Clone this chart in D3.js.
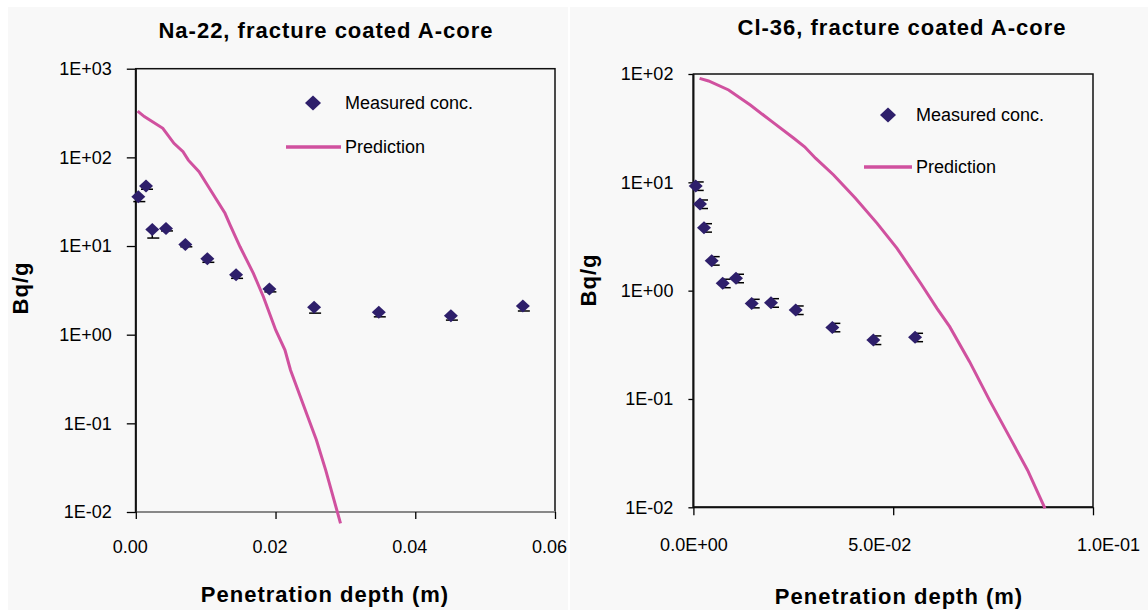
<!DOCTYPE html>
<html lang="en">
<head>
<meta charset="UTF-8">
<title>Na-22 and Cl-36 penetration profiles</title>
<style>
    body { margin: 0; background: #fff; }
    svg { display: block; font-family: "Liberation Sans", Arial, sans-serif; }
    .tick text { font-size: 18px; fill: #000; }
    .tick line { stroke: #000; stroke-width: 1.3px; }
    .title, .axis-title { font-weight: bold; font-size: 22px; letter-spacing: 1px; }
    .legend text { font-size: 18px; }
</style>
</head>
<body>
<svg width="1148" height="610"></svg>
<script src="https://d3js.org/d3.v7.min.js"></script>
<script>
    // Na-22 measured concentration (Bq/g) vs penetration depth (m)
    const naDepth = [0.00036, 0.00146, 0.00236, 0.00432, 0.00709, 0.01024, 0.01435, 0.01912, 0.02552, 0.03478, 0.0451, 0.0554];
    const naConc  = [36.0, 47.5, 15.4, 15.8, 10.4, 7.2, 4.75, 3.27, 2.04, 1.79, 1.64, 2.10];
    const naErr   = [4.3, 3.8, 3.1, 1.0, 0.6, 0.65, 0.43, 0.23, 0.29, 0.2, 0.18, 0.25];
    // Na-22 prediction
    const naPredDepth = [0.00026, 0.00122, 0.00387, 0.00546, 0.00676, 0.00752, 0.00905, 0.01024, 0.01277, 0.01349, 0.01492, 0.01683, 0.01826, 0.02002, 0.02135, 0.02214, 0.02452, 0.02585, 0.02718, 0.0293];
    const naPred      = [333, 288, 213, 144, 116, 93, 69, 48.8, 23.4, 17.3, 9.8, 4.92, 2.68, 1.13, 0.671, 0.40, 0.124, 0.0649, 0.0297, 0.00745];

    // Cl-36 measured concentration
    const clDepth = [0.00058, 0.00165, 0.00265, 0.00458, 0.00733, 0.01066, 0.01459, 0.01942, 0.0256, 0.03477, 0.04503, 0.05547];
    const clConc  = [9.25, 6.3, 3.81, 1.89, 1.17, 1.30, 0.763, 0.773, 0.662, 0.458, 0.350, 0.371];
    const clErr   = [0.83, 0.57, 0.34, 0.17, 0.105, 0.117, 0.069, 0.07, 0.06, 0.041, 0.032, 0.033];
    // Cl-36 prediction
    const clPredDepth = [0.00155, 0.0038, 0.00881, 0.01424, 0.01967, 0.02513, 0.02783, 0.03056, 0.03509, 0.04055, 0.04598, 0.05096, 0.05687, 0.06095, 0.06413, 0.06911, 0.07409, 0.07955, 0.08363, 0.08798];
    const clPred      = [91.2, 86.2, 71.2, 51.7, 36.3, 25.5, 21.3, 16.7, 11.7, 7.12, 4.18, 2.46, 1.17, 0.687, 0.465, 0.221, 0.0977, 0.0417, 0.0220, 0.00977];

    // ticks
    const naXTicks = [0, 0.02, 0.04, 0.06];
    const naXLabels = ["0.00", "0.02", "0.04", "0.06"];
    const naYTicks = [1000, 100, 10, 1, 0.1, 0.01];
    const naYLabels = ["1E+03", "1E+02", "1E+01", "1E+00", "1E-01", "1E-02"];
    const clXTicks = [0, 0.05, 0.1];
    const clXLabels = ["0.0E+00", "5.0E-02", "1.0E-01"];
    const clYTicks = [100, 10, 1, 0.1, 0.01];
    const clYLabels = ["1E+02", "1E+01", "1E+00", "1E-01", "1E-02"];

    const markerColor = "#2e1f6b";
    const lineColor = "#d0519f";

    const svg = d3.select("svg");

    // panel backgrounds
    svg.append("rect").attr("x", 8).attr("y", 7).attr("width", 560).attr("height", 603).attr("fill", "#f8f8f8");
    svg.append("rect").attr("x", 570).attr("y", 7).attr("width", 578).attr("height", 603).attr("fill", "#f8f8f8");

    function diamond(w, h) {
        return `M0,${-h}L${w},0L0,${h}L${-w},0Z`;
    }

    function drawChart(c) {
        const x = d3.scaleLinear().domain(c.xDomain).range([c.left, c.right]);
        const y = d3.scaleLog().domain(c.yDomain).range([c.bottom, c.top]);
        const g = svg.append("g");

        // frame
        g.append("rect")
            .attr("x", c.left).attr("y", c.top)
            .attr("width", c.right - c.left).attr("height", c.bottom - c.top)
            .attr("fill", "none").attr("stroke", "#111").attr("stroke-width", 1.5);
        g.append("line")
            .attr("x1", c.left).attr("x2", c.right).attr("y1", c.bottom).attr("y2", c.bottom)
            .attr("stroke", c.bottomColor).attr("stroke-width", 2);

        const xAxis = g.append("g").attr("transform", `translate(0,${c.bottom})`)
            .call(d3.axisBottom(x).tickValues(c.xTicks).tickFormat((d, i) => c.xLabels[i])
                .tickSize(c.xTickLen).tickPadding(c.xPad));
        xAxis.select(".domain").remove();
        xAxis.selectAll(".tick line").attr("stroke", c.bottomColor);
        xAxis.selectAll(".tick text").attr("dx", (d, i) => c.xLabelShift[i]);

        const yAxis = g.append("g").attr("transform", `translate(${c.left},0)`)
            .call(d3.axisLeft(y).tickValues(c.yTicks).tickFormat((d, i) => c.yLabels[i])
                .tickSize(c.yTickLen).tickPadding(c.yPad));
        yAxis.select(".domain").remove();
        g.append("line")
            .attr("x1", c.left).attr("x2", c.left).attr("y1", c.top).attr("y2", c.bottom)
            .attr("stroke", "#111").attr("stroke-width", 2);

        // prediction line
        const pred = c.predDepth.map((d, i) => [d, c.pred[i]]);
        g.append("path").datum(pred)
            .attr("fill", "none").attr("stroke", lineColor).attr("stroke-width", 3)
            .attr("d", d3.line().x(d => x(d[0])).y(d => y(d[1])));

        // measured points with error bars (minus-only or both directions)
        const pts = c.depth.map((d, i) => ({ d: d, v: c.conc[i], e: c.err[i] }));
        const eb = g.append("g").attr("stroke", "#000").attr("stroke-width", 1.5);
        pts.forEach(p => {
            const px = x(p.d);
            const y0 = y(p.v - p.e);
            const y1 = c.errBoth ? y(p.v + p.e) : y(p.v);
            eb.append("line").attr("x1", px).attr("x2", px).attr("y1", y0).attr("y2", y1);
            const caps = c.errBoth ? [y0, y1] : [y0];
            caps.forEach(yy => {
                eb.append("line").attr("x1", px + c.capL).attr("x2", px + c.capR).attr("y1", yy).attr("y2", yy);
            });
        });
        g.append("g").selectAll("path").data(pts).join("path")
            .attr("d", diamond(7, 6.5))
            .attr("transform", p => `translate(${x(p.d)},${y(p.v)})`)
            .attr("fill", markerColor);

        // titles
        svg.append("text").attr("class", "title")
            .attr("x", c.titleX).attr("y", c.titleY).attr("text-anchor", "middle").text(c.title);
        svg.append("text").attr("class", "axis-title")
            .attr("x", c.xTitleX).attr("y", c.xTitleY).attr("text-anchor", "middle").text("Penetration depth (m)");
        svg.append("text").attr("class", "axis-title")
            .attr("transform", `translate(${c.yTitleX},${c.yTitleY}) rotate(-90)`)
            .attr("text-anchor", "middle").text("Bq/g");

        // legend
        const lg = svg.append("g").attr("class", "legend");
        lg.append("path").attr("d", diamond(8, 7.5))
            .attr("transform", `translate(${c.legend.mx},${c.legend.my})`).attr("fill", markerColor);
        lg.append("text").attr("x", c.legend.tx).attr("y", c.legend.my).attr("dy", "0.35em").text("Measured conc.");
        lg.append("line").attr("x1", c.legend.lx1).attr("x2", c.legend.lx2)
            .attr("y1", c.legend.ly).attr("y2", c.legend.ly)
            .attr("stroke", lineColor).attr("stroke-width", 3.5);
        lg.append("text").attr("x", c.legend.tx).attr("y", c.legend.ly).attr("dy", "0.35em").text("Prediction");
    }

    drawChart({
        title: "Na-22, fracture coated A-core",
        xDomain: [0, 0.06], yDomain: [0.01, 1000],
        left: 135.8, right: 555, top: 68.7, bottom: 512,
        xTicks: naXTicks, xLabels: naXLabels, yTicks: naYTicks, yLabels: naYLabels,
        xTickLen: 7, xPad: 21, xLabelShift: [-6, -6, -6, -6],
        yTickLen: 9, yPad: 15,
        bottomColor: "#888",
        depth: naDepth, conc: naConc, err: naErr, errBoth: false,
        predDepth: naPredDepth, pred: naPred,
        capL: -5, capR: 7,
        titleX: 326, titleY: 38,
        xTitleX: 325, xTitleY: 602,
        yTitleX: 28, yTitleY: 288,
        legend: { mx: 313, my: 103, tx: 345, lx1: 286, lx2: 341, ly: 147 }
    });

    drawChart({
        title: "Cl-36, fracture coated A-core",
        xDomain: [0, 0.1], yDomain: [0.01, 100],
        left: 693.4, right: 1093, top: 74, bottom: 507.3,
        xTicks: clXTicks, xLabels: clXLabels, yTicks: clYTicks, yLabels: clYLabels,
        xTickLen: 8, xPad: 23, xLabelShift: [0, -14, 15],
        yTickLen: 5, yPad: 15,
        bottomColor: "#111",
        depth: clDepth, conc: clConc, err: clErr, errBoth: true,
        predDepth: clPredDepth, pred: clPred,
        capL: 0, capR: 8,
        titleX: 902, titleY: 35,
        xTitleX: 899, xTitleY: 604,
        yTitleX: 596, yTitleY: 280,
        legend: { mx: 888, my: 115, tx: 916, lx1: 864, lx2: 912, ly: 167 }
    });
</script>
</body>
</html>
